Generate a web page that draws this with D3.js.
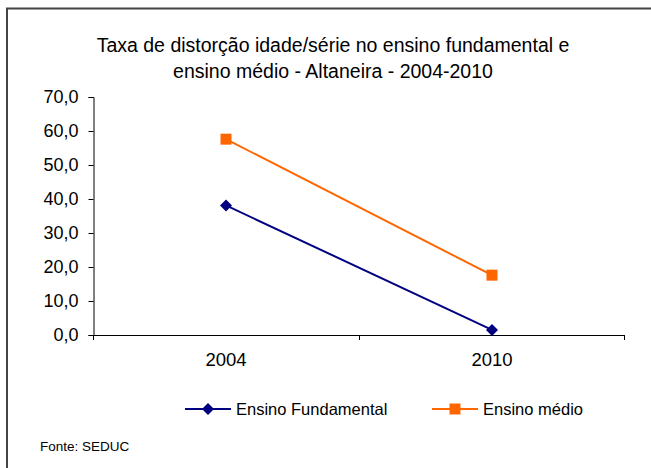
<!DOCTYPE html>
<html>
<head>
<meta charset="utf-8">
<script src="https://cdn.jsdelivr.net/npm/d3@7"></script>
<style>
  body { margin: 0; background: #fff; }
  text { font-family: "Liberation Sans", Arial, sans-serif; fill: #000; }
</style>
</head>
<body>
<div id="chart"></div>
<script>
const years = ["2004", "2010"];
const fundamental = [38.1, 1.5];
const medio = [57.6, 17.6];
const yTicks = [0, 10, 20, 30, 40, 50, 60, 70];

(function () {
  const width = 651, height = 468;
  const svg = d3.select("#chart").append("svg")
    .attr("width", width).attr("height", height);

  // frame (only top and left edges visible)
  svg.append("rect")
    .attr("x", 7).attr("y", 8.5)
    .attr("width", 700).attr("height", 500)
    .attr("fill", "none").attr("stroke", "#444").attr("stroke-width", 2);

  svg.append("text")
    .attr("x", 333).attr("y", 52)
    .attr("text-anchor", "middle").style("font-size", "19.5px")
    .text("Taxa de distorção idade/série no ensino fundamental e");
  svg.append("text")
    .attr("x", 333).attr("y", 78)
    .attr("text-anchor", "middle").style("font-size", "19.5px")
    .text("ensino médio - Altaneira - 2004-2010");

  const x = d3.scaleBand().domain(years).range([93, 625]);
  const y = d3.scaleLinear().domain([0, 70]).range([335, 97]);

  const yAxis = svg.append("g")
    .attr("transform", "translate(93.5,0)")
    .call(d3.axisLeft(y).tickValues(yTicks).tickSize(5).tickPadding(10)
      .tickFormat(d => d3.format(".1f")(d).replace(".", ",")));
  yAxis.selectAll("text").style("font-size", "18px");

  const xAxis = svg.append("g")
    .attr("transform", "translate(0,335)")
    .call(d3.axisBottom(x).tickSize(0).tickPadding(18));
  xAxis.selectAll("text").style("font-size", "18.5px");
  xAxis.select(".domain").remove();
  svg.append("line").attr("x1", 93).attr("x2", 625).attr("y1", 335.5).attr("y2", 335.5)
    .attr("stroke", "#000");
  // category separators
  svg.selectAll("line.sep")
    .data([93, 93 + x.bandwidth(), 624])
    .join("line").attr("class", "sep")
    .attr("x1", d => d + 0.5).attr("x2", d => d + 0.5)
    .attr("y1", 335).attr("y2", 340)
    .attr("stroke", "#000");
  svg.selectAll(".domain, .tick line").attr("stroke", "#000");

  const cx = d => x(d) + x.bandwidth() / 2;
  const line = d3.line().x(d => cx(d[0])).y(d => y(d[1]));

  const diamond = "M0,-6L6,0L0,6L-6,0Z";
  const square = "M-5.5,-5.5H5.5V5.5H-5.5Z";

  const series = [
    { name: "Ensino Fundamental", values: fundamental, color: "#000080", shape: diamond },
    { name: "Ensino médio", values: medio, color: "#FF6600", shape: square }
  ];

  series.forEach(s => {
    const pts = years.map((yr, i) => [yr, s.values[i]]);
    svg.append("path").datum(pts)
      .attr("d", line).attr("fill", "none")
      .attr("stroke", s.color).attr("stroke-width", 2);
    svg.selectAll(null).data(pts).join("path")
      .attr("transform", d => `translate(${cx(d[0])},${y(d[1])})`)
      .attr("d", s.shape)
      .attr("fill", s.color);
  });

  // legend
  const legX = [185, 432];
  series.forEach((s, i) => {
    const g = svg.append("g").attr("transform", `translate(${legX[i]},409)`);
    g.append("line").attr("x1", 0).attr("x2", 46).attr("stroke", s.color).attr("stroke-width", 2);
    g.append("path").attr("transform", "translate(23,0)")
      .attr("d", s.shape)
      .attr("fill", s.color);
    g.append("text").attr("x", 51).attr("y", 6).style("font-size", "16.5px").text(s.name);
  });

  svg.append("text").attr("x", 40).attr("y", 451)
    .style("font-size", "13.5px").text("Fonte: SEDUC");
})();
</script>
</body>
</html>
